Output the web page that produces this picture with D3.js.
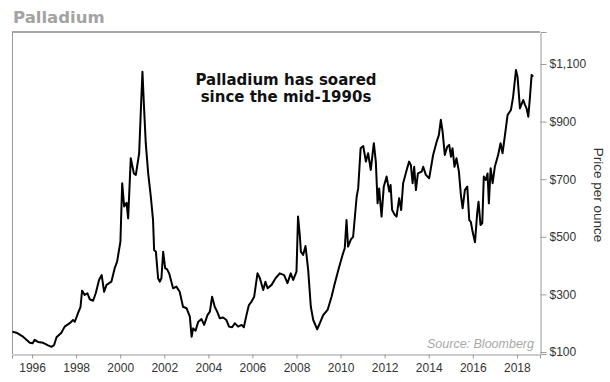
<!DOCTYPE html>
<html><head><meta charset="utf-8">
<script src="https://cdn.jsdelivr.net/npm/d3@7"></script>
<style>body{margin:0;background:#fff}svg{display:block}</style>
</head><body>
<svg id="c" width="610" height="382"></svg>
<script>
const years = [1995.11,1995.29,1995.59,1995.90,1996.02,1996.12,1996.27,1996.50,1996.73,1996.88,1997.00,1997.11,1997.33,1997.48,1997.71,1997.86,1997.94,1998.09,1998.20,1998.27,1998.39,1998.51,1998.62,1998.77,1998.89,1999.04,1999.16,1999.27,1999.38,1999.60,1999.75,1999.86,2000.01,2000.09,2000.18,2000.29,2000.36,2000.48,2000.62,2000.71,2000.86,2000.95,2001.01,2001.08,2001.16,2001.27,2001.39,2001.49,2001.54,2001.62,2001.72,2001.80,2001.87,2001.95,2002.04,2002.13,2002.22,2002.40,2002.55,2002.70,2002.85,2003.01,2003.16,2003.24,2003.31,2003.42,2003.54,2003.69,2003.81,2003.96,2004.07,2004.17,2004.29,2004.40,2004.52,2004.67,2004.82,2004.94,2005.08,2005.20,2005.35,2005.51,2005.61,2005.73,2005.84,2005.96,2006.08,2006.23,2006.34,2006.49,2006.59,2006.69,2006.87,2007.05,2007.24,2007.44,2007.59,2007.74,2007.85,2008.00,2008.07,2008.15,2008.20,2008.30,2008.41,2008.53,2008.65,2008.76,2008.94,2009.06,2009.21,2009.41,2009.59,2009.74,2009.92,2010.09,2010.19,2010.27,2010.34,2010.47,2010.57,2010.73,2010.80,2010.91,2011.03,2011.15,2011.25,2011.37,2011.51,2011.60,2011.68,2011.75,2011.86,2011.96,2012.09,2012.21,2012.27,2012.34,2012.46,2012.54,2012.66,2012.75,2012.84,2013.00,2013.11,2013.19,2013.27,2013.34,2013.42,2013.51,2013.68,2013.75,2013.87,2014.02,2014.20,2014.36,2014.46,2014.55,2014.63,2014.73,2014.84,2014.93,2015.01,2015.08,2015.17,2015.26,2015.37,2015.46,2015.54,2015.64,2015.75,2015.84,2015.91,2015.99,2016.10,2016.20,2016.26,2016.35,2016.43,2016.50,2016.59,2016.67,2016.73,2016.81,2016.90,2017.00,2017.15,2017.26,2017.35,2017.46,2017.58,2017.73,2017.83,2017.96,2018.03,2018.14,2018.29,2018.37,2018.44,2018.52,2018.59,2018.67,2018.74];
const prices = [170,167,153,132,130,142,135,132,123,118,124,151,167,188,200,211,205,236,257,313,298,304,283,278,304,350,367,309,333,344,391,414,483,686,605,618,564,773,720,715,790,964,1073,952,825,720,639,558,454,448,356,344,356,448,391,387,373,321,327,309,257,252,223,153,182,174,205,214,194,228,240,292,257,240,217,220,211,188,186,200,188,194,186,228,263,275,292,373,356,315,344,321,333,356,373,367,339,373,350,379,570,506,448,437,468,385,257,211,179,200,228,246,292,339,391,437,460,558,466,491,500,639,668,807,815,761,790,732,825,761,616,668,570,674,709,657,680,593,576,570,634,593,686,732,761,749,686,743,662,720,726,743,715,703,784,830,853,906,865,784,813,819,778,807,743,773,726,645,599,662,674,558,552,518,481,582,622,541,547,709,697,720,616,738,686,743,784,825,790,853,923,940,986,1079,1056,946,975,958,946,917,981,1062,1056];
const xTicks = [1996,1998,2000,2002,2004,2006,2008,2010,2012,2014,2016,2018];
const yTicks = [100,300,500,700,900,1100];

const svg = d3.select('#c');
const L = 12, R = 540, T = 32, B = 354;
const x = d3.scaleLinear().domain([1995.09, 2019.05]).range([L, R]);
const y = d3.scaleLinear().domain([93, 1211]).range([B, T]);

// title
svg.append('text').attr('x', 13).attr('y', 23)
  .attr('font-family', 'DejaVu Sans, Verdana, sans-serif').attr('font-weight', 'bold')
  .attr('font-size', 16.5).attr('fill', '#a3a3a3').text('Palladium');

// frame
svg.append('line').attr('x1', L).attr('x2', R).attr('y1', T).attr('y2', T)
  .attr('stroke', '#a8a8a8').attr('stroke-width', 2);
svg.append('line').attr('x1', L + 0.5).attr('x2', L + 0.5).attr('y1', T).attr('y2', B)
  .attr('stroke', '#9a9a9a').attr('stroke-width', 1);

// x axis
const xAxis = d3.axisBottom(x).tickValues(xTicks).tickFormat(d3.format('d')).tickSizeOuter(0).tickSize(4).tickPadding(5);
const gx = svg.append('g').attr('transform', `translate(0,${B + 0.5})`).call(xAxis);
gx.select('.domain').attr('stroke', '#9a9a9a');
gx.selectAll('.tick line').attr('stroke', '#9a9a9a');
gx.selectAll('text').attr('font-family', 'Liberation Sans, Arial, sans-serif').attr('font-size', 12).attr('fill', '#333');

// y axis (right)
const yAxis = d3.axisRight(y).tickValues(yTicks).tickFormat(d => '$' + d3.format(',')(d)).tickSizeOuter(0).tickSize(6).tickPadding(3);
const gy = svg.append('g').attr('transform', `translate(${R + 0.5},0)`).call(yAxis);
gy.select('.domain').attr('stroke', '#9a9a9a');
gy.selectAll('.tick line').attr('stroke', '#9a9a9a');
gy.selectAll('text').attr('font-family', 'Liberation Sans, Arial, sans-serif').attr('font-size', 12).attr('fill', '#333');

// y axis title
svg.append('text').attr('transform', 'translate(594,195) rotate(90)')
  .attr('text-anchor', 'middle').attr('font-family', 'Liberation Sans, Arial, sans-serif')
  .attr('font-size', 13.5).attr('fill', '#333').text('Price per ounce');

// line
const line = d3.line().x((d, i) => x(years[i])).y(d => y(d));
svg.append('path').datum(prices).attr('d', line)
  .attr('fill', 'none').attr('stroke', '#000').attr('stroke-width', 2).attr('stroke-linejoin', 'round');

// annotation
const ann = svg.append('text').attr('text-anchor', 'middle')
  .attr('font-family', 'DejaVu Sans, Verdana, sans-serif').attr('font-weight', 'bold')
  .attr('font-size', 15).attr('fill', '#111');
ann.append('tspan').attr('x', 286).attr('y', 85).text('Palladium has soared');
ann.append('tspan').attr('x', 286).attr('y', 102).text('since the mid-1990s');

// source
svg.append('text').attr('x', 534).attr('y', 348).attr('text-anchor', 'end')
  .attr('font-family', 'Liberation Sans, Arial, sans-serif').attr('font-style', 'italic')
  .attr('font-size', 12.5).attr('fill', '#a8a8a8').text('Source: Bloomberg');
</script>
</body></html>
